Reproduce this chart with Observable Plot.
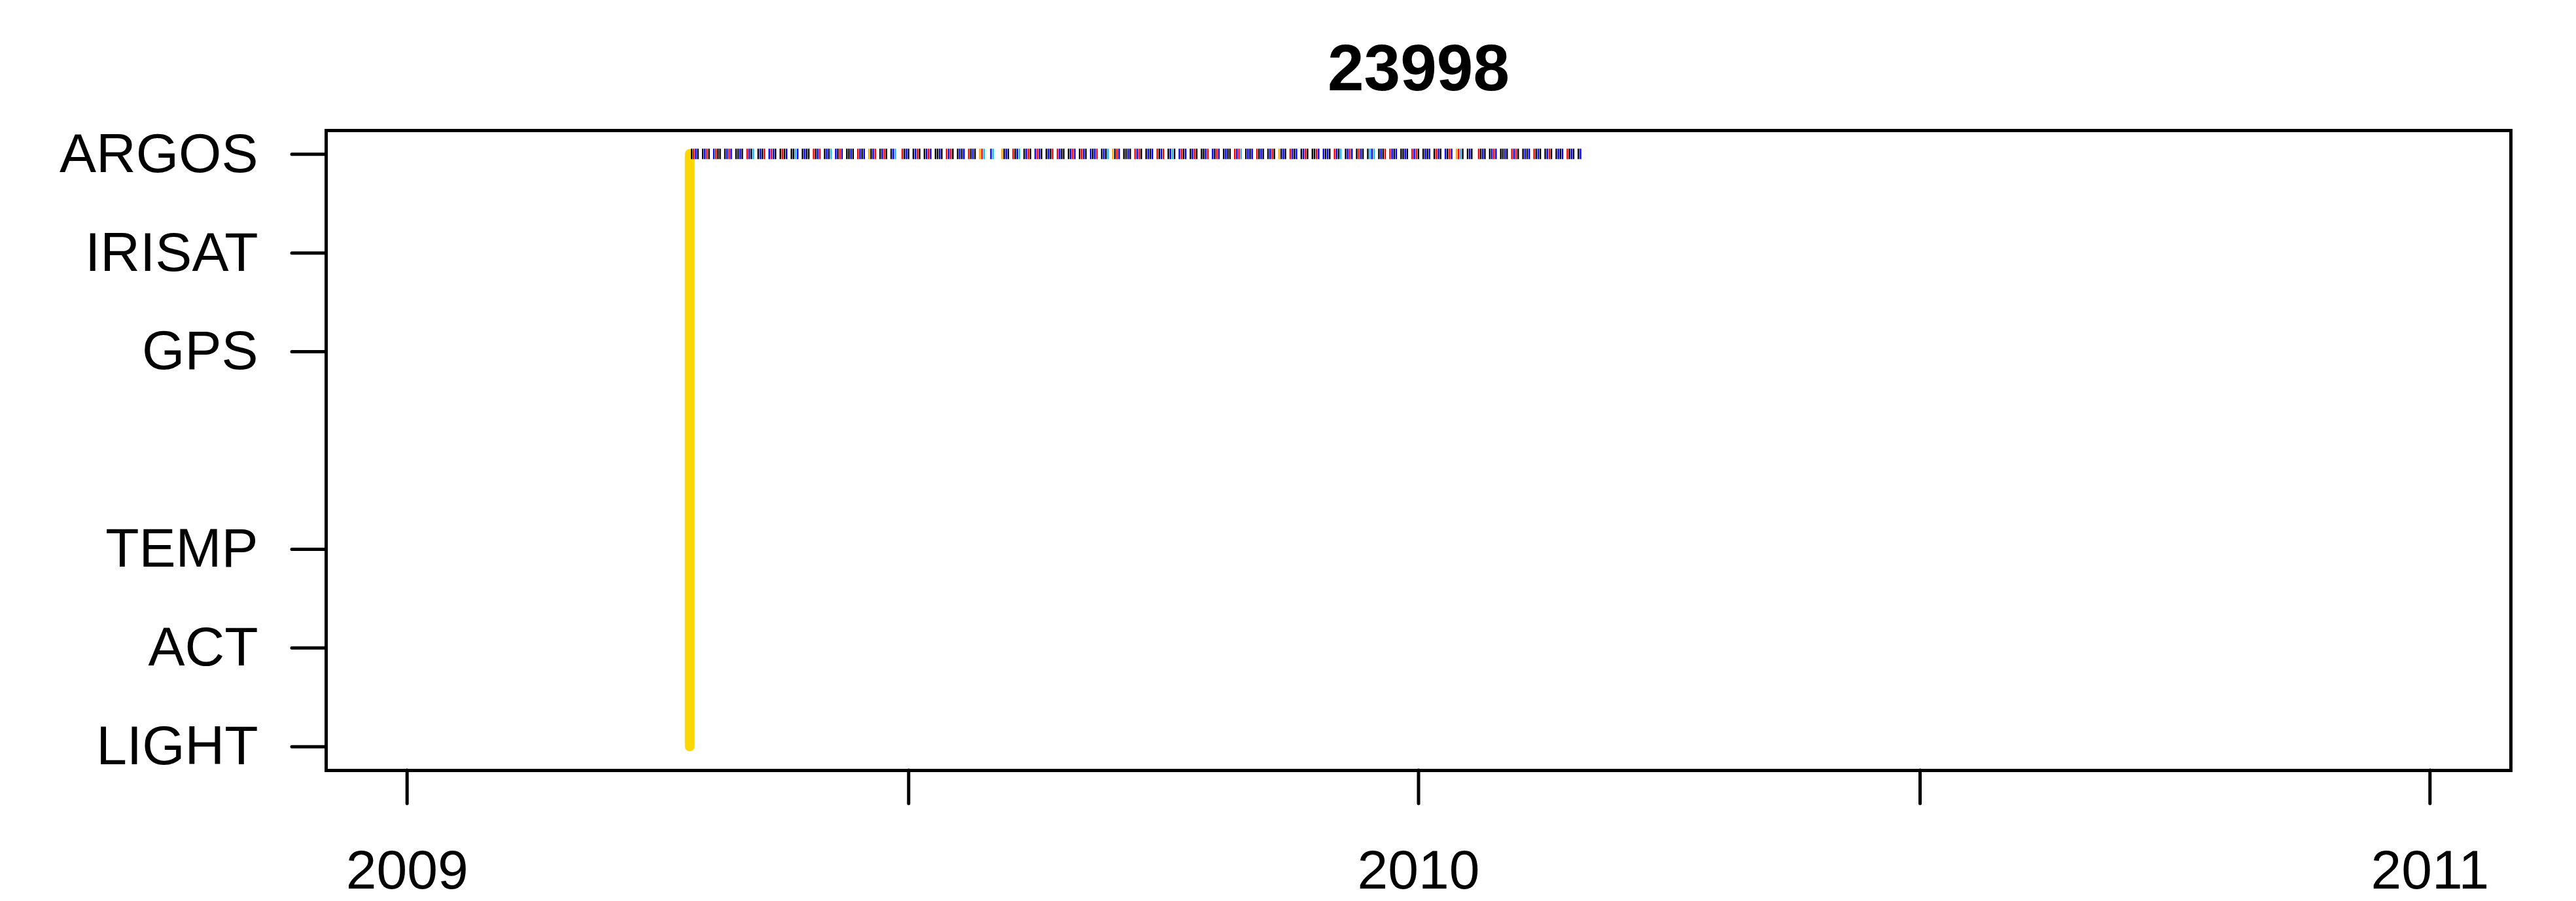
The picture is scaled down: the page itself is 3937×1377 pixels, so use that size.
<!DOCTYPE html>
<html>
<head>
<meta charset="utf-8">
<script src="https://cdn.jsdelivr.net/npm/d3@7"></script>
<script src="https://cdn.jsdelivr.net/npm/@observablehq/plot@0.6"></script>
<style>
  html, body { margin: 0; padding: 0; background: #ffffff; }
  #chart svg { display: block; }
</style>
</head>
<body>
<div id="chart"></div>
<script>
// ---------- data ----------
const tagId = "23998";
const sensorNames = ["ARGOS", "IRISAT", "GPS", "TEMP", "ACT", "LIGHT"];
const sensorRows  = [7, 6, 5, 3, 2, 1];

const axisStart = "2009-01-01";
const axisEnd   = "2011-01-01";
const xTickDates = ["2009-01-01", "2009-07-01", "2010-01-01", "2010-07-01", "2011-01-01"];

const deployDate = "2009-04-13";

// Argos transmission cycles: start day (days after deployment) of each cycle
const argosCycleStart = [
  0, 4, 8, 12, 16, 20, 24, 28, 32, 36, 40, 44, 48, 52, 56, 60, 64, 68, 72, 76,
  80, 84, 88, 92, 96, 100, 104, 108, 112, 116, 120, 124, 128, 132, 136, 140, 144, 148, 152, 156,
  160, 164, 168, 172, 176, 180, 184, 188, 192, 196, 200, 204, 208, 212, 216, 220, 224, 228, 232, 236,
  240, 244, 248, 252, 256, 260, 264, 268, 272, 276, 280, 284, 288, 292, 296, 300, 304, 308, 312, 316, 320
];
// typical fix times inside a cycle (days after cycle start)
const argosFixOffsets = [0.7, 1.45, 2.2, 2.95];
// location class of each fix in each cycle (one letter per fix)
const argosCycleLC = [
  "B0AB", "BA0B", "A0BB", "BA0A", "BBAB", "0AB1", "BAB0", "A0AB", "B0BA", "BB1A",
  "BABB", "0BA0", "BAB1", "AB0A", "BBAB", "0ABA", "2BA0", "BA0B", "BA1", "0BAB",
  "BA0B", "BA0A", "BBAB", "0A0B", "BABA", "0BAB", "2013", "A13", "2BAB", "0BA1",
  "BA0B", "A0AB", "BAB0", "0ABB", "BA0A", "B0AB", "ABA0", "BAB1", "2B0A", "BBAB",
  "0A0B", "BABA", "0BA0", "BA1B", "A0BA", "BA0B", "BBA0", "AB0A", "BABB", "0A01",
  "BABA", "0BAB", "BA0B", "2BAB", "0ABA", "BA0B", "BB0A", "ABAB", "0AB1", "BA0A",
  "B0AB", "B1A1", "BAB0", "0ABA", "BBAB", "0A0B", "BABA", "B0AB", "AB0A", "201B",
  "BAB3", "0BAB", "BA0A", "BBAB", "0A0B", "BABA", "0BAB", "BA0B", "BABA", "0BAB", "BA"
];
const lcNames  = ["B", "A", "0", "1", "2", "3"];
const lcColors = ["#000000", "#0000FF", "#FF0000", "#1EB4FF", "#FFA500", "#E8F8E0"];

// ---------- build tables ----------
const parseDay = d3.utcParse("%Y-%m-%d");
const DAY = 86400000;
const t0 = parseDay(axisStart), t1 = parseDay(axisEnd);
const pad = (t1 - t0) * 0.04;
const deployT = parseDay(deployDate);

const sensors = sensorNames.map((name, i) => ({name, row: sensorRows[i]}));
const rowLabel = new Map(sensors.map(s => [s.row, s.name]));
const argosRow = sensors.find(s => s.name === "ARGOS").row;

const fixes = [];
argosCycleStart.forEach((start, c) => {
  const codes = argosCycleLC[c];
  for (let j = 0; j < codes.length; j++) {
    fixes.push({date: new Date(+deployT + (start + argosFixOffsets[j]) * DAY), lc: codes[j], row: argosRow});
  }
});

const deployment = [{date: deployT, from: d3.min(sensorRows), to: d3.max(sensorRows)}];

const stripHalf = 0.053; // half height of an Argos fix tick, in row units

const chart = Plot.plot({
  width: 3937,
  height: 1377,
  marginLeft: 498,
  marginRight: 100,
  marginTop: 199,
  marginBottom: 200,
  style: {fontFamily: "'Liberation Sans', Arial, sans-serif", fontSize: "84px", background: "#ffffff", color: "#000000"},
  x: {type: "utc", domain: [new Date(+t0 - pad), new Date(+t1 + pad)]},
  y: {domain: [0.76, 7.24]},
  color: {domain: lcNames, range: lcColors},
  marks: [
    Plot.ruleX(deployment, {x: "date", y1: "from", y2: "to", stroke: "#FFD700", strokeWidth: 15, strokeLinecap: "round"}),
    Plot.ruleX(fixes, {x: "date", y1: d => d.row - stripHalf, y2: d => d.row + stripHalf, stroke: "lc", strokeWidth: 2.4}),
    Plot.frame({stroke: "#000000", strokeWidth: 5}),
    Plot.axisY({
      ticks: sensorRows,
      tickFormat: d => rowLabel.get(d),
      tickSize: 52,
      tickPadding: 52,
      strokeWidth: 5,
      strokeLinecap: "round",
      label: null
    }),
    Plot.axisX({
      ticks: xTickDates.map(parseDay),
      tickFormat: d => d.getUTCMonth() === 0 ? String(d.getUTCFullYear()) : "",
      tickSize: 51,
      tickPadding: 70,
      strokeWidth: 5,
      strokeLinecap: "round",
      label: null
    }),
    Plot.text([tagId], {frameAnchor: "top", dy: -62, lineAnchor: "bottom", fontSize: 100, fontWeight: "bold", fill: "#000000"})
  ]
});
document.getElementById("chart").append(chart);
</script>
</body>
</html>
